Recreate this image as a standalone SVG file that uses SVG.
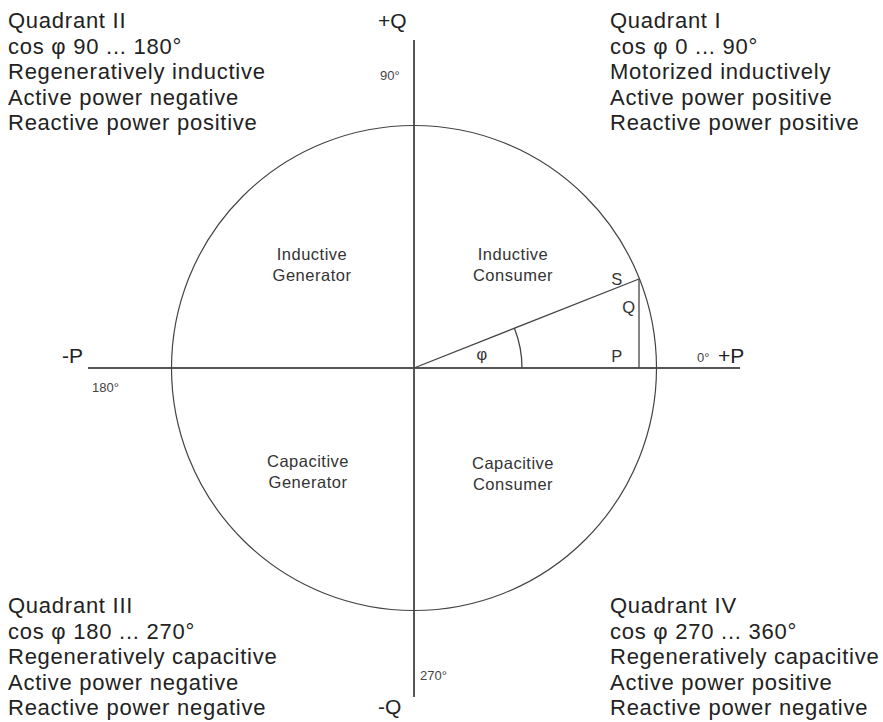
<svg xmlns="http://www.w3.org/2000/svg" width="883" height="722" viewBox="0 0 883 722">
<style>
.q{font-family:"Liberation Sans",Arial,sans-serif;font-size:22px;letter-spacing:0.75px;fill:#222}
.s{font-family:"Liberation Sans",Arial,sans-serif;font-size:16.5px;letter-spacing:0.5px;fill:#333;text-anchor:middle}
.a{font-family:"Liberation Sans",Arial,sans-serif;font-size:21px;fill:#222}
.d{font-family:"Liberation Sans",Arial,sans-serif;font-size:13px;fill:#444}
.ax{stroke:#555;stroke-width:2;fill:none}
.ln{stroke:#444;stroke-width:1.3;fill:none}
</style>
<rect width="883" height="722" fill="#fff"/>
<g id="connectors">
<line class="ax" x1="414" y1="40" x2="414" y2="697"/>
<line class="ax" x1="88" y1="368" x2="740" y2="368"/>
<line class="ln" x1="414" y1="368" x2="639" y2="279"/>
<line class="ln" x1="639" y1="279" x2="639" y2="368"/>
<path class="ln" d="M522,368 A108,108 0 0 0 514.4,328.3"/>
</g>
<g id="circle"><circle cx="414" cy="368" r="242.5" fill="none" stroke="#444" stroke-width="1.2"/></g>
<g id="q2"><text class="q" x="8" y="28">Quadrant II</text><text class="q" x="8" y="53.5">cos φ 90 ... 180°</text><text class="q" x="8" y="79">Regeneratively inductive</text><text class="q" x="8" y="104.5">Active power negative</text><text class="q" x="8" y="130">Reactive power positive</text></g>
<g id="q1"><text class="q" x="610" y="28">Quadrant I</text><text class="q" x="610" y="53.5">cos φ 0 ... 90°</text><text class="q" x="610" y="79">Motorized inductively</text><text class="q" x="610" y="104.5">Active power positive</text><text class="q" x="610" y="130">Reactive power positive</text></g>
<g id="q3"><text class="q" x="8" y="613">Quadrant III</text><text class="q" x="8" y="638.5">cos φ 180 ... 270°</text><text class="q" x="8" y="664">Regeneratively capacitive</text><text class="q" x="8" y="689.5">Active power negative</text><text class="q" x="8" y="715">Reactive power negative</text></g>
<g id="q4"><text class="q" x="610" y="613">Quadrant IV</text><text class="q" x="610" y="638.5">cos φ 270 ... 360°</text><text class="q" x="610" y="664">Regeneratively capacitive</text><text class="q" x="610" y="689.5">Active power positive</text><text class="q" x="610" y="715">Reactive power negative</text></g>
<g id="ig"><text class="s" x="312" y="260">Inductive</text><text class="s" x="312" y="281">Generator</text></g>
<g id="ic"><text class="s" x="513" y="260">Inductive</text><text class="s" x="513" y="281">Consumer</text></g>
<g id="cg"><text class="s" x="308" y="467">Capacitive</text><text class="s" x="308" y="488">Generator</text></g>
<g id="cc"><text class="s" x="513" y="469">Capacitive</text><text class="s" x="513" y="490">Consumer</text></g>
<g id="labels">
<text class="a" x="378" y="28">+Q</text>
<text class="d" x="380" y="80">90°</text>
<text class="a" x="62" y="363">-P</text>
<text class="d" x="92" y="392">180°</text>
<text class="d" x="697" y="362">0°</text>
<text class="a" x="718" y="363">+P</text>
<text class="d" x="420" y="680">270°</text>
<text class="a" x="378" y="714">-Q</text>
<text class="s" x="617" y="285">S</text>
<text class="s" x="629" y="313">Q</text>
<text class="s" x="617" y="362">P</text>
<text class="s" x="482" y="360">φ</text>
</g>
</svg>
